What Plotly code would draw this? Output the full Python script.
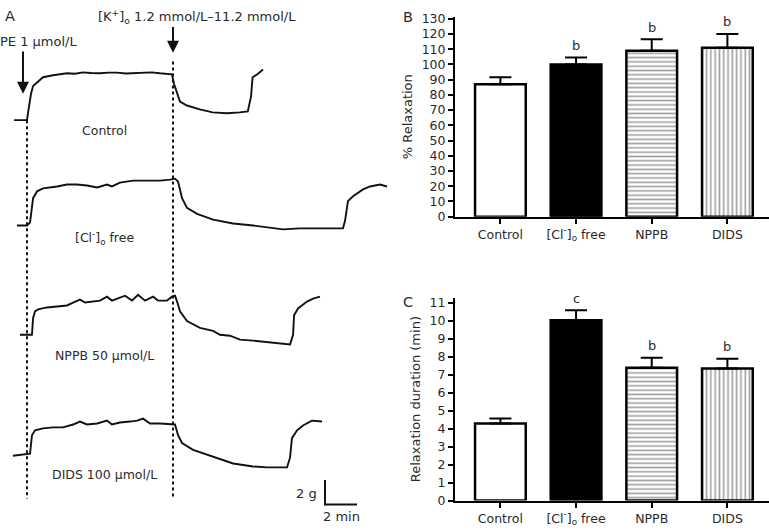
import plotly.graph_objects as go

W, H = 769, 531
FONT = "DejaVu Sans"
TXT = "#2a2a2a"

# ---------------- Panel B / C data ----------------
groups = ["Control", "[Cl<sup>-</sup>]<sub>o</sub> free", "NPPB", "DIDS"]
relax_pct = [87, 100, 109, 111]
relax_pct_err = [4.5, 4.5, 7.5, 9]
relax_pct_sig = ["", "b", "b", "b"]
relax_dur = [4.3, 10.05, 7.4, 7.35]
relax_dur_err = [0.27, 0.55, 0.55, 0.55]
relax_dur_sig = ["", "c", "b", "b"]

# ---------------- Panel A traces: time (min, 0 = PE) and tension (g above baseline) ----------------
ctrl_t = [-0.81, 0, 0.06, 0.25, 0.38, 0.69, 1.0, 1.63, 2.1, 2.5, 3.0, 3.5, 4.0, 4.56, 5.1, 5.6, 6.2,
          6.7, 7.3, 7.8, 8.3, 8.75, 9.06, 9.19, 9.38, 9.56, 10.0, 10.8, 11.6, 12.5, 13.3, 13.8,
          14.0, 14.1, 14.4, 14.75]
ctrl_g = [0, 0, 0.56, 2.16, 2.8, 3.2, 3.52, 3.68, 3.76, 3.84, 3.8, 3.92, 3.86, 3.84, 3.9, 3.9, 3.82,
          3.84, 3.9, 3.92, 3.84, 3.8, 3.76, 2.96, 2.16, 1.52, 1.2, 0.88, 0.64, 0.56, 0.64, 0.72,
          1.92, 3.52, 3.76, 4.16]

cl_t = [-0.63, 0, 0.19, 0.38, 0.63, 1.0, 1.88, 2.5, 3.13, 3.75, 4.38, 5.0, 5.31, 5.81, 6.63, 7.5,
        8.31, 8.94, 9.25, 9.44, 9.69, 10.0, 10.63, 11.63, 12.88, 14.13, 15.0, 16.0, 17.06, 18.13,
        19.75, 19.88, 20.06, 20.38, 21.0, 21.44, 22.06, 22.5]
cl_g = [0, 0, 0.24, 2.24, 2.8, 3.04, 3.2, 3.36, 3.36, 3.28, 3.12, 3.36, 3.2, 3.52, 3.68, 3.68,
        3.68, 3.76, 3.84, 3.6, 2.24, 1.44, 0.96, 0.48, 0.16, 0, -0.16, -0.32, -0.24, -0.24,
        -0.24, 0.4, 2.0, 2.4, 2.96, 3.2, 3.36, 3.2]

nppb_t = [-0.44, 0.31, 0.38, 0.5, 0.69, 1.25, 1.88, 2.5, 2.88, 3.31, 3.63, 4.13, 4.56, 5.0, 5.31,
          5.81, 6.13, 6.56, 6.94, 7.38, 7.88, 8.19, 8.75, 9.06, 9.25, 9.38, 9.56, 10.0, 10.81,
          11.63, 12.06, 12.69, 13.31, 14.13, 15.38, 16.44, 16.63, 16.69, 16.94, 17.5, 17.88, 18.31]
nppb_g = [0, 0, 1.36, 1.92, 2.08, 2.24, 2.32, 2.4, 2.64, 2.88, 2.64, 2.72, 2.8, 3.12, 2.8,
          3.04, 3.2, 2.8, 3.28, 2.8, 3.12, 2.8, 2.8, 3.12, 3.2, 2.72, 1.92, 1.12, 0.56,
          0.32, 0, -0.08, -0.4, -0.48, -0.64, -0.8, 0, 1.6, 2.16, 2.72, 2.96, 3.12]

dids_t = [-0.88, 0.06, 0.19, 0.31, 0.5, 1.0, 1.63, 2.25, 2.88, 3.31, 3.75, 4.38, 5.0, 5.31, 5.81,
          6.44, 6.88, 7.25, 7.69, 8.31, 8.94, 9.25, 9.44, 9.69, 10.38, 11.25, 12.06, 12.88, 14.13,
          15.0, 16.25, 16.44, 16.56, 16.88, 17.25, 17.81, 18.44]
dids_g = [0, 0.16, 0.16, 1.68, 2.08, 2.24, 2.32, 2.32, 2.56, 2.8, 2.56, 2.64, 2.88, 2.56, 2.72,
          2.8, 2.88, 3.04, 2.64, 2.64, 2.56, 2.56, 1.68, 1.04, 0.48, 0.08, -0.32, -0.64, -0.88,
          -0.96, -0.96, -0.16, 1.44, 2.08, 2.48, 2.88, 2.8]

trace_labels = ["Control", "[Cl<sup>-</sup>]<sub>o</sub> free", "NPPB 50 µmol/L", "DIDS 100 µmol/L"]
k_time = 9.125  # min after PE when [K+]o raised
scale_g, scale_min = 2, 2

# ---------------- layout helpers (pixel -> paper / axis units) ----------------
def px(x):
    return x / W

def py(y):
    return 1 - y / H

A_T0 = -27 / 16.0           # axis range in min
A_T1 = (390 - 27) / 16.0
A_G1 = H / 12.5             # axis range in g
def gy(y):
    return (H - y) / 12.5

offsets = [gy(117), gy(225), gy(337), gy(461)]
label_y = [128, 238, 358, 480]

fig = go.Figure()

series = [(ctrl_t, ctrl_g), (cl_t, cl_g), (nppb_t, nppb_g), (dids_t, dids_g)]
for (t, g), off in zip(series, offsets):
    fig.add_trace(go.Scatter(x=t, y=[v + off for v in g], mode="lines",
                             line=dict(color="#111", width=1.9),
                             xaxis="x3", yaxis="y3", showlegend=False, hoverinfo="skip"))

# scale bar
sb_t, sb_g = 18.625, gy(511)
fig.add_trace(go.Scatter(x=[sb_t, sb_t, sb_t + scale_min], y=[sb_g + scale_g, sb_g, sb_g],
                         mode="lines", line=dict(color="#111", width=2),
                         xaxis="x3", yaxis="y3", showlegend=False, hoverinfo="skip"))

# dotted lines
for t, ytop in [(0, gy(117)), (k_time, gy(57))]:
    fig.add_shape(type="line", xref="x3", yref="y3", x0=t, x1=t, y0=ytop, y1=gy(505),
                  line=dict(color="#111", width=2, dash="dot"))

# Bars
fills = ["white", "black", "white", "white"]
shapes = ["", "", "-", "|"]
def bar(vals, errs, xa, ya):
    return go.Bar(x=groups, y=vals, width=0.67, xaxis=xa, yaxis=ya, showlegend=False,
                  marker=dict(color=fills, line=dict(color="black", width=2.5),
                              pattern=dict(shape=shapes, fgcolor="#333333", size=4.3, solidity=0.38)),
                  error_y=dict(type="data", symmetric=False, array=errs,
                               arrayminus=[0] * len(errs), color="black", thickness=2, width=11))

fig.add_trace(bar(relax_pct, relax_pct_err, "x", "y"))
fig.add_trace(bar(relax_dur, relax_dur_err, "x2", "y2"))

ann = []
for g, v, e, s in zip(groups, relax_pct, relax_pct_err, relax_pct_sig):
    if s:
        ann.append(dict(x=g, y=v + e, xref="x", yref="y", text=s, showarrow=False,
                        yshift=12, font=dict(size=13, color=TXT, family=FONT)))
for g, v, e, s in zip(groups, relax_dur, relax_dur_err, relax_dur_sig):
    if s:
        ann.append(dict(x=g, y=v + e, xref="x2", yref="y2", text=s, showarrow=False,
                        yshift=12, font=dict(size=13, color=TXT, family=FONT)))

def t_ann(text, x, y, size=13, xanchor="center"):
    return dict(x=px(x), y=py(y), xref="paper", yref="paper", text=text, showarrow=False,
                xanchor=xanchor, yanchor="middle", font=dict(size=size, color=TXT, family=FONT))

ann += [
    t_ann("A", 3, 10, 14.5, "left"),
    t_ann("B", 401, 11, 14.5, "left"),
    t_ann("C", 401, 303, 14.5, "left"),
    t_ann("[K<sup>+</sup>]<sub>o</sub> 1.2 mmol/L–11.2 mmol/L", 197, 11, 13),
    t_ann("PE 1 µmol/L", -2, 36, 13, "left"),
    t_ann("2 g", 319, 500, 13, "right"),
    t_ann("2 min", 341, 523, 13),
]
for lab, ly in zip(trace_labels, label_y):
    ann.append(t_ann(lab, 104, ly, 12.5))

# arrows
ann.append(dict(x=-0.25, y=gy(90), ax=-0.25, ay=gy(45), xref="x3", yref="y3", axref="x3", ayref="y3",
                text="", showarrow=True, arrowhead=2, arrowsize=1.2, arrowwidth=2, arrowcolor="#111"))
ann.append(dict(x=k_time, y=gy(48), ax=k_time, ay=gy(20), xref="x3", yref="y3", axref="x3", ayref="y3",
                text="", showarrow=True, arrowhead=2, arrowsize=1.2, arrowwidth=2, arrowcolor="#111"))

axis_common = dict(showline=True, linecolor="black", linewidth=2, ticks="outside", ticklen=5,
                   tickwidth=2, tickcolor="black", showgrid=False, zeroline=False,
                   tickfont=dict(size=12.5, color=TXT, family=FONT))

fig.update_layout(
    width=W, height=H, margin=dict(l=0, r=0, t=0, b=0),
    paper_bgcolor="white", plot_bgcolor="white",
    font=dict(family=FONT, color=TXT),
    xaxis=dict(domain=[px(455), 1.0], range=[-0.6, 3.55], anchor="y", **axis_common),
    yaxis=dict(domain=[py(216), py(11)], range=[0, 131.3], dtick=10, anchor="x",
               title=dict(text="% Relaxation", standoff=6, font=dict(size=13, color=TXT)),
               **axis_common),
    xaxis2=dict(domain=[px(455), 1.0], range=[-0.6, 3.55], anchor="y2", **axis_common),
    yaxis2=dict(domain=[py(507), py(299)], range=[0, 11.3], dtick=1, anchor="x2",
                title=dict(text="Relaxation duration (min)", standoff=6, font=dict(size=13, color=TXT)),
                **axis_common),
    xaxis3=dict(domain=[0, px(390)], range=[A_T0, A_T1], visible=False, anchor="y3"),
    yaxis3=dict(domain=[0, 1], range=[0, A_G1], visible=False, anchor="x3"),
    annotations=ann,
)

fig.write_html("out.html", config={"displayModeBar": False},
               post_script="document.body.style.margin='0';document.body.style.padding='0';")
